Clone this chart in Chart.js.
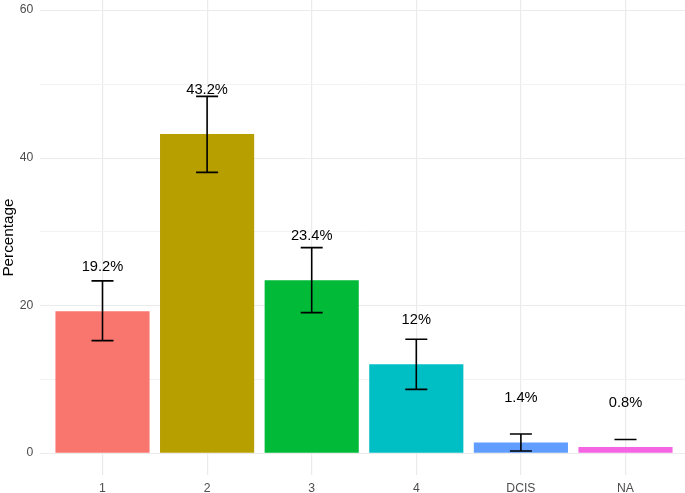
<!DOCTYPE html>
<html>
<head>
<meta charset="utf-8">
<script src="https://cdn.jsdelivr.net/npm/chart.js@4/dist/chart.umd.min.js"></script>
<style>
  html, body { margin: 0; padding: 0; background: #fff; }
  #wrap { width: 685px; height: 493px; position: relative; }
</style>
</head>
<body>
<div id="wrap"><canvas id="gradeChart"></canvas></div>
<script>
// Grade distribution with confidence intervals
const categories = ['1', '2', '3', '4', 'DCIS', 'NA'];
const percentages = [19.2, 43.2, 23.4, 12, 1.4, 0.8];
const ciLower = [15.2, 38.0, 19.0, 8.6, 0.25, 1.8];
const ciUpper = [23.3, 48.3, 27.8, 15.4, 2.55, 1.8];
const barColors = ['#F8766D', '#B79F00', '#00BA38', '#00BFC4', '#619CFF', '#F564E3'];
const majorTicks = [0, 20, 40, 60];
const minorTicks = [10, 30, 50];

// horizontal grid runs a little past the bars like ggplot's panel
const panelGrid = {
    id: 'panelGrid',
    beforeDatasetsDraw: function (chart) {
        const ctx = chart.ctx;
        const y = chart.scales.y;
        ctx.save();
        minorTicks.forEach(v => {
            const py = Math.round(y.getPixelForValue(v)) + 0.5;
            ctx.strokeStyle = '#F2F2F2';
            ctx.lineWidth = 1;
            ctx.beginPath(); ctx.moveTo(40, py); ctx.lineTo(685, py); ctx.stroke();
        });
        majorTicks.forEach(v => {
            const py = Math.round(y.getPixelForValue(v)) + 0.5;
            ctx.strokeStyle = '#EBEBEB';
            ctx.lineWidth = 1.2;
            ctx.beginPath(); ctx.moveTo(40, py); ctx.lineTo(685, py); ctx.stroke();
        });
        ctx.restore();
    }
};

const errorBars = {
    id: 'errorBars',
    afterDatasetsDraw: function (chart) {
        const ctx = chart.ctx;
        const x = chart.scales.x;
        const y = chart.scales.y;
        ctx.save();
        ctx.strokeStyle = '#000';
        ctx.lineWidth = 1.6;
        categories.forEach((c, i) => {
            const px = x.getPixelForValue(i);
            const top = y.getPixelForValue(ciUpper[i]);
            const bot = y.getPixelForValue(ciLower[i]);
            const half = 11;
            ctx.beginPath();
            ctx.moveTo(px, top); ctx.lineTo(px, bot);
            ctx.moveTo(px - half, top); ctx.lineTo(px + half, top);
            ctx.moveTo(px - half, bot); ctx.lineTo(px + half, bot);
            ctx.stroke();
        });
        // value labels sit 6 points above the bar
        ctx.fillStyle = '#000';
        ctx.font = '14.7px "Liberation Sans", Arial, sans-serif';
        ctx.textAlign = 'center';
        ctx.textBaseline = 'middle';
        percentages.forEach((v, i) => {
            ctx.fillText(v + '%', x.getPixelForValue(i), y.getPixelForValue(v + 6));
        });
        ctx.restore();
    }
};

new Chart(document.getElementById('gradeChart'), {
    type: 'bar',
    data: {
        labels: categories,
        datasets: [{
            data: percentages,
            backgroundColor: barColors,
            borderWidth: 0,
            categoryPercentage: 1.0,
            barPercentage: 0.9
        }]
    },
    options: {
        responsive: true,
        maintainAspectRatio: false,
        animation: false,
        layout: { padding: { left: 0, right: 7.2, top: 0, bottom: 0 } },
        plugins: {
            legend: { display: false },
            tooltip: { enabled: false }
        },
        scales: {
            x: {
                grid: { display: true, offset: false, color: '#EBEBEB', lineWidth: 1.2, drawTicks: false },
                border: { display: false },
                ticks: {
                    color: '#4D4D4D',
                    font: { family: '"Liberation Sans", Arial, sans-serif', size: 12.2 },
                    padding: 6
                },
                afterFit: function (scale) {
                    scale.height = 18;
                    scale.paddingLeft = 0;
                    scale.paddingRight = 0;
                }
            },
            y: {
                min: -3,
                max: 61.35,
                afterBuildTicks: function (scale) {
                    scale.ticks = majorTicks.map(v => ({ value: v }));
                },
                grid: { display: false, drawTicks: false },
                border: { display: false },
                ticks: {
                    color: '#4D4D4D',
                    font: { family: '"Liberation Sans", Arial, sans-serif', size: 12.2 },
                    padding: 17
                },
                title: {
                    display: true,
                    text: 'Percentage',
                    color: '#000',
                    font: { family: '"Liberation Sans", Arial, sans-serif', size: 15.3 },
                    padding: { top: 0, bottom: 0 }
                },
                afterFit: function (scale) {
                    scale.width = 50.2;
                    scale.paddingTop = 0;
                    scale.paddingBottom = 0;
                }
            }
        }
    },
    plugins: [panelGrid, errorBars]
});
</script>
</body>
</html>
